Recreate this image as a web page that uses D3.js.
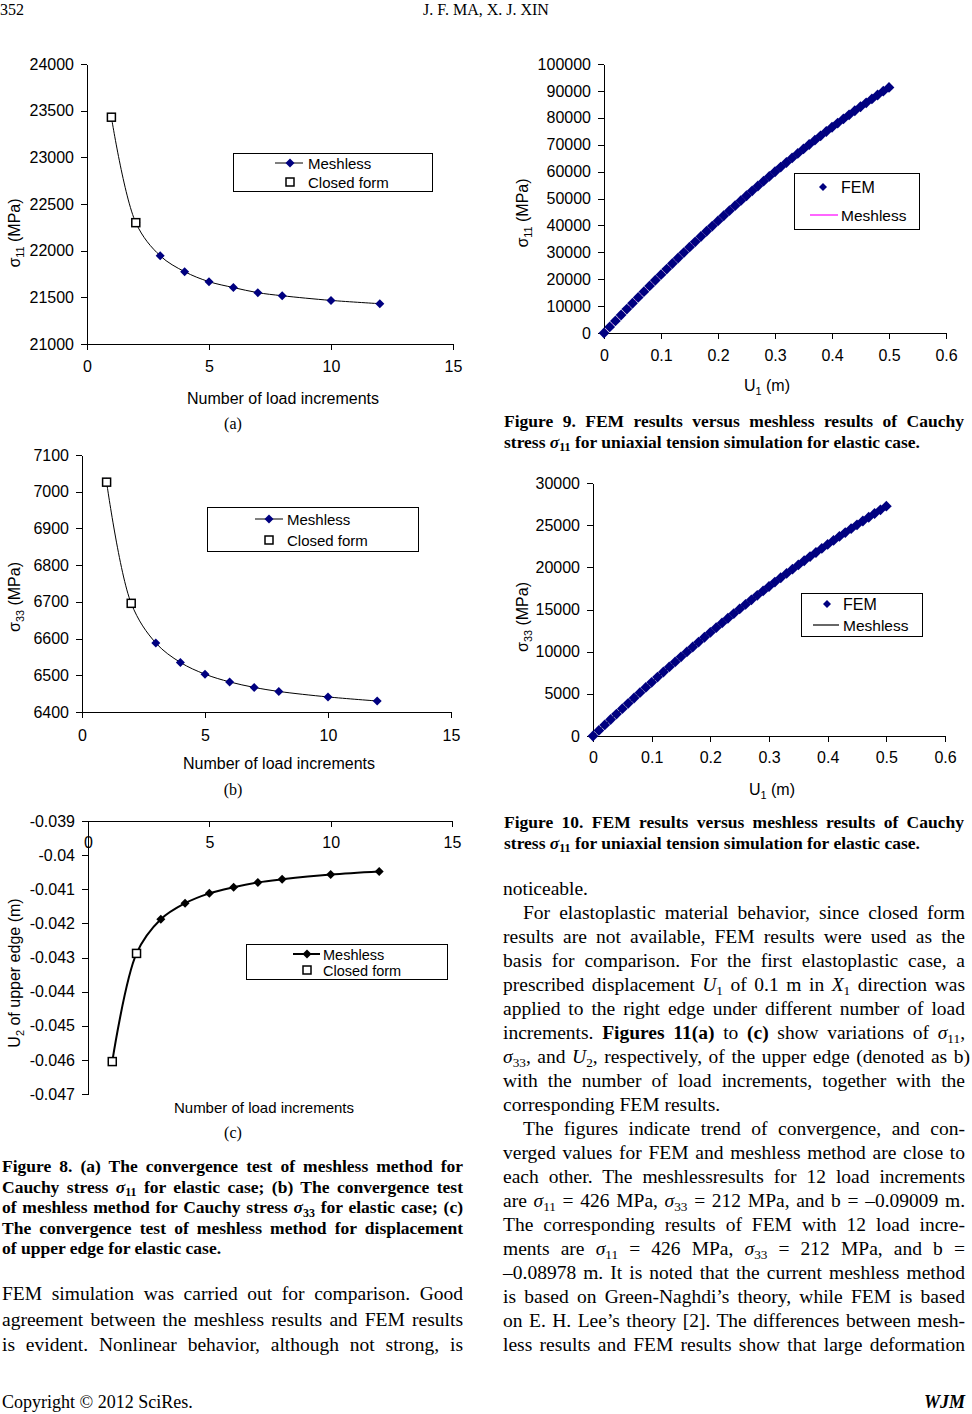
<!DOCTYPE html>
<html>
<head>
<meta charset="utf-8">
<title>Meshless convergence and FEM comparison</title>
<script src="https://d3js.org/d3.v7.min.js"></script>
<style>
  body { margin: 0; background: #fff; }
  svg text { fill: #000; }
  .ax text { font-family: "Liberation Sans", Arial, sans-serif; font-size: 16px; }
  .ax path, .ax line { stroke: #000; shape-rendering: crispEdges; }
</style>
</head>
<body>
<svg id="page" width="972" height="1414"></svg>
<script>
// ---- data ----
const loadSteps = [1, 2, 3, 4, 5, 6, 7, 8, 10, 12];
const closedSteps = [1, 2];

const s11Meshless = [23430, 22300, 21945, 21775, 21668, 21605, 21550, 21517, 21467, 21432];
const s11Closed = [23430, 22300];
const s33Meshless = [7026, 6696, 6588, 6535, 6503, 6482, 6467, 6456, 6441, 6430];
const s33Closed = [7026, 6696];
const u2Meshless = [-0.04605, -0.04288, -0.04188, -0.04141, -0.04112, -0.04094, -0.04080, -0.04071, -0.04057, -0.04048];
const u2Closed = [-0.04605, -0.04288];

const nTicks = [0, 5, 10, 15];
const s11Ticks = [21000, 21500, 22000, 22500, 23000, 23500, 24000];
const s33Ticks = [6400, 6500, 6600, 6700, 6800, 6900, 7000, 7100];
const u2Ticks = [-0.047, -0.046, -0.045, -0.044, -0.043, -0.042, -0.041, -0.040, -0.039];
const u2TickLabels = ["-0.047", "-0.046", "-0.045", "-0.044", "-0.043", "-0.042", "-0.041", "-0.04", "-0.039"];

// FEM / meshless uniaxial tension (elastic)
const u1 = [0, 0.01, 0.02, 0.03, 0.04, 0.05, 0.06, 0.07, 0.08, 0.09,
            0.10, 0.11, 0.12, 0.13, 0.14, 0.15, 0.16, 0.17, 0.18, 0.19,
            0.20, 0.21, 0.22, 0.23, 0.24, 0.25, 0.26, 0.27, 0.28, 0.29,
            0.30, 0.31, 0.32, 0.33, 0.34, 0.35, 0.36, 0.37, 0.38, 0.39,
            0.40, 0.41, 0.42, 0.43, 0.44, 0.45, 0.46, 0.47, 0.48, 0.49, 0.50];
const femS11 = [0, 2247, 4478, 6691, 8886, 11065, 13226, 15371, 17498, 19607,
                21700, 23775, 25834, 27875, 29898, 31905, 33894, 35867, 37822, 39759,
                41680, 43583, 45470, 47339, 49190, 51025, 52842, 54643, 56426, 58191,
                59940, 61671, 63386, 65083, 66762, 68425, 70070, 71699, 73310, 74903,
                76480, 78039, 79582, 81107, 82614, 84105, 85578, 87035, 88474, 89895, 91300];
const femS33 = [0, 658, 1311, 1959, 2603, 3243, 3877, 4507, 5133, 5754,
                6370, 6982, 7589, 8191, 8789, 9383, 9971, 10555, 11135, 11710,
                12280, 12846, 13407, 13963, 14515, 15063, 15605, 16143, 16677, 17206,
                17730, 18250, 18765, 19275, 19781, 20283, 20779, 21271, 21759, 22242,
                22720, 23194, 23663, 24127, 24587, 25043, 25493, 25939, 26381, 26818, 27250];
const u1Ticks = [0, 0.1, 0.2, 0.3, 0.4, 0.5, 0.6];
const u1TickLabels = ["0", "0.1", "0.2", "0.3", "0.4", "0.5", "0.6"];
const fem11Ticks = [0, 10000, 20000, 30000, 40000, 50000, 60000, 70000, 80000, 90000, 100000];
const fem33Ticks = [0, 5000, 10000, 15000, 20000, 25000, 30000];

// ---- helpers ----
const page = d3.select("#page");
const sans = '"Liberation Sans", Arial, sans-serif';
const serif = '"Liberation Serif", "Times New Roman", serif';
const navy = "#000080";

const diamond = r => `M0,${-r}L${r},0L0,${r}L${-r},0Z`;

function addSegs(t, segs, size) {
  let shifted = false;
  segs.forEach(s => {
    const [str, st] = typeof s === "string" ? [s, ""] : s;
    const ts = t.append("tspan").text(str);
    if (st.includes("i")) ts.style("font-style", "italic");
    if (st.includes("b")) ts.style("font-weight", "bold");
    if (st.includes("s")) {
      ts.style("font-size", (size * 0.68) + "px").style("font-style", "normal");
      if (!shifted) ts.attr("dy", size * 0.22);
      shifted = true;
    } else if (shifted) {
      ts.attr("dy", -size * 0.22);
      shifted = false;
    }
  });
}

function textLine(x, y, width, segs, o) {
  const t = page.append("text").attr("x", x).attr("y", y)
    .style("font-family", o.family || serif)
    .style("font-size", o.size + "px")
    .style("font-weight", o.bold ? "bold" : "normal");
  if (o.italic) t.style("font-style", "italic");
  if (o.anchor) t.attr("text-anchor", o.anchor);
  addSegs(t, segs, o.size);
  if (o.justify) {
    const len = t.node().getComputedTextLength();
    const spaces = (t.text().match(/ /g) || []).length;
    if (spaces) t.attr("word-spacing", (width - len) / spaces);
  }
  return t;
}

function yTitle(x, y, segs, size) {
  const t = page.append("text")
    .attr("transform", `translate(${x},${y}) rotate(-90)`)
    .attr("text-anchor", "middle")
    .style("font-family", sans).style("font-size", size + "px");
  addSegs(t, segs, size);
}

function axes(x, y, o) {
  page.append("g").attr("class", "ax").attr("transform", `translate(0,${o.xAt})`)
    .call(d3.axisBottom(x).tickValues(o.xTicks).tickFormat((d, i) => o.xLabels[i])
      .tickSize(6).tickSizeOuter(0).tickPadding(o.xPad));
  page.append("g").attr("class", "ax").attr("transform", `translate(${x.range()[0]},0)`)
    .call(d3.axisLeft(y).tickValues(o.yTicks).tickFormat((d, i) => o.yLabels[i])
      .tickSize(6).tickSizeOuter(0).tickPadding(7));
}

function legendBox(x0, y0, x1, y1) {
  page.append("rect").attr("x", x0).attr("y", y0).attr("width", x1 - x0).attr("height", y1 - y0)
    .attr("fill", "#fff").attr("stroke", "#000").attr("stroke-width", 1)
    .attr("shape-rendering", "crispEdges");
}

// convergence chart: meshless smooth line + diamonds, closed form squares
function convergence(c) {
  const x = d3.scaleLinear().domain([0, 15]).range([c.x0, c.x1]);
  const y = d3.scaleLinear().domain(c.yDomain).range([c.yBot, c.yTop]);
  axes(x, y, { xAt: c.xAt, xTicks: nTicks, xLabels: nTicks.map(String), xPad: c.xPad,
               yTicks: c.yTicks, yLabels: c.yLabels });

  const pts = loadSteps.map((n, i) => [n, c.mesh[i]]);
  page.append("path")
    .attr("d", d3.line().x(d => x(d[0])).y(d => y(d[1])).curve(d3.curveCatmullRom.alpha(0.5))(pts))
    .attr("fill", "none").attr("stroke", "#000").attr("stroke-width", c.lw);
  page.append("g").selectAll("path").data(pts).join("path")
    .attr("transform", d => `translate(${x(d[0])},${y(d[1])})`)
    .attr("d", diamond(4.5)).attr("fill", c.mark);
  page.append("g").selectAll("rect").data(closedSteps.map((n, i) => [n, c.closed[i]])).join("rect")
    .attr("x", d => x(d[0]) - 4).attr("y", d => y(d[1]) - 4)
    .attr("width", 8).attr("height", 8)
    .attr("fill", "#fff").attr("stroke", "#000").attr("stroke-width", 1.5);

  // legend
  const L = c.legend;
  legendBox(L.x0, L.y0, L.x1, L.y1);
  page.append("line").attr("x1", L.lx0).attr("x2", L.lx1).attr("y1", L.r1).attr("y2", L.r1)
    .attr("stroke", "#000").attr("stroke-width", c.lw);
  page.append("path").attr("transform", `translate(${L.mx},${L.r1})`).attr("d", diamond(4.5)).attr("fill", c.mark);
  page.append("rect").attr("x", L.mx - 4).attr("y", L.r2 - 4).attr("width", 8).attr("height", 8)
    .attr("fill", "#fff").attr("stroke", "#000").attr("stroke-width", 1.5);
  textLine(L.tx, L.r1 + 5.5, 0, ["Meshless"], { size: L.fs, family: sans });
  textLine(L.tx, L.r2 + 5.5, 0, ["Closed form"], { size: L.fs, family: sans });

  textLine(c.titleX, c.titleY, 0, ["Number of load increments"], { size: c.tfs, family: sans, anchor: "middle" });
  textLine(233, c.capY, 0, [c.cap], { size: 16, anchor: "middle" });
  yTitle(c.yLabX, c.yLabY, c.yLab, 16);
}

convergence({
  x0: 87, x1: 453, yTop: 64, yBot: 344, yDomain: [21000, 24000], xAt: 344, xPad: 11,
  yTicks: s11Ticks, yLabels: s11Ticks.map(String), mesh: s11Meshless, closed: s11Closed,
  lw: 1, mark: navy,
  legend: { x0: 233, y0: 153, x1: 432, y1: 191, lx0: 275, lx1: 303, mx: 290, tx: 308, r1: 163, r2: 182, fs: 15 },
  titleX: 283, titleY: 404, tfs: 16, cap: "(a)", capY: 429,
  yLabX: 20, yLabY: 233, yLab: ["σ", ["11", "s"], " (MPa)"]
});

convergence({
  x0: 82, x1: 451, yTop: 455, yBot: 712, yDomain: [6400, 7100], xAt: 712, xPad: 12,
  yTicks: s33Ticks, yLabels: s33Ticks.map(String), mesh: s33Meshless, closed: s33Closed,
  lw: 1, mark: navy,
  legend: { x0: 207, y0: 507, x1: 418, y1: 551, lx0: 255, lx1: 283, mx: 269, tx: 287, r1: 519, r2: 540, fs: 15 },
  titleX: 279, titleY: 769, tfs: 16, cap: "(b)", capY: 795,
  yLabX: 20, yLabY: 597, yLab: ["σ", ["33", "s"], " (MPa)"]
});

convergence({
  x0: 88, x1: 452, yTop: 821, yBot: 1094, yDomain: [-0.047, -0.039], xAt: 821, xPad: 10,
  yTicks: u2Ticks, yLabels: u2TickLabels, mesh: u2Meshless, closed: u2Closed,
  lw: 2, mark: "#000",
  legend: { x0: 246, y0: 944, x1: 447, y1: 979, lx0: 293, lx1: 320, mx: 307, tx: 323, r1: 954, r2: 970, fs: 14.5 },
  titleX: 264, titleY: 1113, tfs: 15, cap: "(c)", capY: 1138,
  yLabX: 20, yLabY: 973, yLab: ["U", ["2", "s"], " of upper edge (m)"]
});

// FEM vs meshless chart
function femChart(c) {
  const x = d3.scaleLinear().domain([0, 0.6]).range([c.x0, c.x1]);
  const y = d3.scaleLinear().domain(c.yDomain).range([c.yBot, c.yTop]);
  axes(x, y, { xAt: c.yBot, xTicks: u1Ticks, xLabels: u1TickLabels, xPad: c.xPad,
               yTicks: c.yTicks, yLabels: c.yTicks.map(String) });
  const pts = u1.map((u, i) => [u, c.vals[i]]);
  page.append("path")
    .attr("d", d3.line().x(d => x(d[0])).y(d => y(d[1]))(pts))
    .attr("fill", "none").attr("stroke", c.lineColor).attr("stroke-width", 1);
  page.append("g").selectAll("path").data(pts).join("path")
    .attr("transform", d => `translate(${x(d[0])},${y(d[1])})`)
    .attr("d", diamond(5.4)).attr("fill", navy);

  const L = c.legend;
  legendBox(L.x0, L.y0, L.x1, L.y1);
  page.append("path").attr("transform", `translate(${L.mx},${L.r1})`).attr("d", diamond(4)).attr("fill", navy);
  page.append("line").attr("x1", L.lx0).attr("x2", L.lx1).attr("y1", L.r2).attr("y2", L.r2)
    .attr("stroke", c.lineColor).attr("stroke-width", 1.2);
  textLine(L.tx, L.r1 + 6, 0, ["FEM"], { size: 16, family: sans });
  textLine(L.tx, L.r2 + 6, 0, ["Meshless"], { size: 15.5, family: sans });

  textLine(c.titleX, c.titleY, 0, ["U", ["1", "s"], " (m)"], { size: 16, family: sans, anchor: "middle" });
  yTitle(528, c.yLabY, c.yLab, 16);
}

femChart({
  x0: 604, x1: 946, yTop: 64, yBot: 333, yDomain: [0, 100000], xPad: 11,
  yTicks: fem11Ticks, vals: femS11, lineColor: "#ff00ff",
  legend: { x0: 794, y0: 173, x1: 919, y1: 229, mx: 823, lx0: 810, lx1: 838, tx: 841, r1: 187, r2: 215 },
  titleX: 767, titleY: 391, yLabY: 213, yLab: ["σ", ["11", "s"], "  (MPa)"]
});

femChart({
  x0: 593, x1: 945, yTop: 483, yBot: 736, yDomain: [0, 30000], xPad: 10,
  yTicks: fem33Ticks, vals: femS33, lineColor: "#000",
  legend: { x0: 801, y0: 593, x1: 922, y1: 636, mx: 827, lx0: 813, lx1: 839, tx: 843, r1: 604, r2: 625 },
  titleX: 772, titleY: 795, yLabY: 617, yLab: ["σ", ["33", "s"], "  (MPa)"]
});

// ---- page text ----
textLine(0, 15, 0, ["352"], { size: 16 });
textLine(486, 15, 0, ["J. F. MA, X. J. XIN"], { size: 16, anchor: "middle" });
textLine(2, 1408, 0, ["Copyright © 2012 SciRes."], { size: 18 });
textLine(965, 1408, 0, ["WJM"], { size: 18, bold: true, italic: true, anchor: "end" });

const sig = n => [["σ", "i"], [n, "s"]];

// figure captions
const cap8 = [
  ["Figure 8. (a) The convergence test of meshless method for"],
  ["Cauchy stress ", ...sig("11"), " for elastic case; (b) The convergence test"],
  ["of meshless method for Cauchy stress ", ...sig("33"), " for elastic case; (c)"],
  ["The convergence test of meshless method for displacement"],
  ["of upper edge for elastic case."]
];
cap8.forEach((segs, i) => textLine(2, 1172 + i * 20.5, 461, segs,
  { size: 17.5, bold: true, justify: i < cap8.length - 1 }));

const cap9 = [
  ["Figure 9. FEM results versus meshless results of Cauchy"],
  ["stress ", ...sig("11"), " for uniaxial tension simulation for elastic case."]
];
cap9.forEach((segs, i) => textLine(504, 427 + i * 20.5, 460, segs, { size: 17.5, bold: true, justify: i === 0 }));

const cap10 = [
  ["Figure 10. FEM results versus meshless results of Cauchy"],
  ["stress ", ...sig("11"), " for uniaxial tension simulation for elastic case."]
];
cap10.forEach((segs, i) => textLine(504, 828 + i * 20.5, 460, segs, { size: 17.5, bold: true, justify: i === 0 }));

// body text, left column
const leftBody = [
  ["FEM simulation was carried out for comparison. Good"],
  ["agreement between the meshless results and FEM results"],
  ["is evident. Nonlinear behavior, although not strong, is"]
];
leftBody.forEach((segs, i) => textLine(2, 1300 + i * 25.5, 461, segs, { size: 19.5, justify: true }));

// body text, right column: [segments, indent, justify, width]
const rightBody = [
  [["noticeable."], 0, false],
  [["For elastoplastic material behavior, since closed form"], 20, true],
  [["results are not available, FEM results were used as the"], 0, true],
  [["basis for comparison. For the first elastoplastic case, a"], 0, true],
  [["prescribed displacement ", ["U", "i"], ["1", "s"], " of 0.1 m in ", ["X", "i"], ["1", "s"], " direction was"], 0, true],
  [["applied to the right edge under different number of load"], 0, true],
  [["increments. ", ["Figures 11(a)", "b"], " to ", ["(c)", "b"], " show variations of ", ...sig("11"), ","], 0, true],
  [[...sig("33"), ", and ", ["U", "i"], ["2", "s"], ", respectively, of the upper edge (denoted as b)"], 0, true, 467],
  [["with the number of load increments, together with the"], 0, true],
  [["corresponding FEM results."], 0, false],
  [["The figures indicate trend of convergence, and con-"], 20, true],
  [["verged values for FEM and meshless method are close to"], 0, true],
  [["each other. The meshlessresults for 12 load increments"], 0, true],
  [["are ", ...sig("11"), " = 426 MPa, ", ...sig("33"), " = 212 MPa, and b = –0.09009 m."], 0, true],
  [["The corresponding results of FEM with 12 load incre-"], 0, true],
  [["ments are ", ...sig("11"), " = 426 MPa, ", ...sig("33"), " = 212 MPa, and b ="], 0, true],
  [["–0.08978 m. It is noted that the current meshless method"], 0, true],
  [["is based on Green-Naghdi’s theory, while FEM is based"], 0, true],
  [["on E. H. Lee’s theory [2]. The differences between mesh-"], 0, true],
  [["less results and FEM results show that large deformation"], 0, true]
];
rightBody.forEach(([segs, indent, just, w], i) =>
  textLine(503 + indent, 895 + i * 24, (w || 462) - indent, segs, { size: 19.5, justify: just }));
</script>
</body>
</html>
